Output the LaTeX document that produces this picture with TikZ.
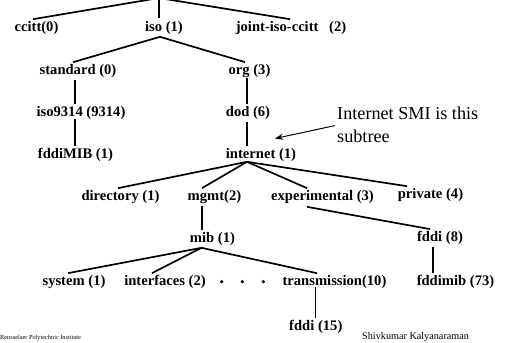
\documentclass[tikz,border=0pt]{standalone}
\usepackage{fontspec}
\setmainfont{Liberation Serif}
\usetikzlibrary{arrows.meta}
\begin{document}
\begin{tikzpicture}[x=1pt,y=-1pt,
  lbl/.style={font=\bfseries\fontsize{14.6}{16}\selectfont, inner sep=2pt, anchor=center},
  edge/.style={line width=1.7pt},
  thinedge/.style={line width=1pt},
  notetext/.style={font=\fontsize{18.2}{23}\selectfont, align=left, inner sep=0pt, anchor=north west},
  ptr/.style={line width=1pt, -{Stealth[length=8pt,width=6pt]}},
  bullet/.style={fill=black}
]
\useasboundingbox (0,0) rectangle (515,343);
\begin{scope}
\clip (0,0) rectangle (515,343);
\coordinate (root) at (159,-2);

% level 1
\node[lbl] (ccitt) at (36.5,28) {ccitt(0)};
\node[lbl] (iso) at (164,28) {iso (1)};
\node[lbl] (joint) at (291,28) {joint-iso-ccitt\hspace{7pt} (2)};
% level 2
\node[lbl] (standard) at (78,71) {standard (0)};
\node[lbl] (org) at (249.5,71) {org (3)};
% level 3
\node[lbl] (iso9314) at (81,113) {iso9314 (9314)};
\node[lbl] (dod) at (248,113) {dod (6)};
% level 4
\node[lbl] (fddiMIB) at (75.5,155) {fddiMIB (1)};
\node[lbl] (internet) at (261,155) {internet (1)};
% level 5
\node[lbl] (directory) at (120.5,197) {directory (1)};
\node[lbl] (mgmt) at (214.5,197) {mgmt(2)};
\node[lbl] (experimental) at (322.5,197) {experimental (3)};
\node[lbl] (private) at (430.5,195) {private (4)};
% level 6
\node[lbl] (mib) at (212.5,239) {mib (1)};
\node[lbl] (fddi8) at (440,238) {fddi (8)};
% level 7
\node[lbl] (system) at (74,282) {system (1)};
\node[lbl] (interfaces) at (165,282) {interfaces (2)};
\node[lbl] (transmission) at (334.5,282) {transmission(10)};
\node[lbl] (fddimib73) at (455.5,282) {fddimib (73)};
% level 8
\node[lbl] (fddi15) at (315.8,327) {fddi (15)};

% dots
\fill[bullet] (221.7,281.7) circle (1.8);
\fill[bullet] (242.3,281.7) circle (1.8);
\fill[bullet] (263.3,281.7) circle (1.8);

% note
\node[notetext] (note) at (337,106.5) {Internet SMI is this\\subtree};
\coordinate (smi) at (275,138.5);
\draw[ptr] ([xshift=-2pt,yshift=-1pt]note.west) -- (smi);

% footers
\node[font=\fontsize{6.3}{7}\selectfont, anchor=west, inner sep=0pt] (rpi) at (0,338) {Rensselaer Polytechnic Institute};
\node[font=\fontsize{10.2}{12}\selectfont, anchor=west, inner sep=0pt] (author) at (362,337) {Shivkumar Kalyanaraman};

% edges
\draw[edge] (root) -- ([xshift=-3.5pt]ccitt.north);
\draw[edge] (root) -- ([xshift=-5pt,yshift=1pt]iso.north);
\draw[edge] (root) -- ([xshift=-1pt]joint.north);

\draw[edge] ([xshift=-4pt]iso.south) -- ([xshift=-5pt]standard.north);
\draw[edge] ([xshift=-4pt]iso.south) -- ([xshift=-4.5pt]org.north);

\draw[edge] ([xshift=-3pt]standard.south) -- ([xshift=-6pt]iso9314.north);
\draw[edge] ([xshift=-2.5pt,yshift=2pt]org.south) -- ([xshift=-1pt]dod.north);
\draw[edge] ([xshift=-6pt,yshift=3pt]iso9314.south) -- ([xshift=-0.5pt]fddiMIB.north);
\draw[edge] ([xshift=-1pt]dod.south) -- ([xshift=-14pt]internet.north);

\draw[edge] ([xshift=-14pt,yshift=2pt]internet.south) -- ([xshift=-2.5pt]directory.north);
\draw[edge] ([xshift=-14pt,yshift=2pt]internet.south) -- ([xshift=-12.5pt]mgmt.north);
\draw[edge] ([xshift=-14pt,yshift=2pt]internet.south) -- ([xshift=-15.5pt]experimental.north);
\draw[edge] ([xshift=-14pt,yshift=2pt]internet.south) -- ([xshift=-23.5pt]private.north);

\draw[edge] ([xshift=-12.5pt]mgmt.south) -- ([xshift=-10.5pt]mib.north);
\draw[edge] ([xshift=-15.5pt,yshift=-1pt]experimental.south) -- ([xshift=-10pt]fddi8.north);

\draw[edge] ([xshift=-11pt]mib.south) -- ([xshift=-6pt]system.north);
\draw[edge] ([xshift=-11pt]mib.south) -- ([xshift=-13pt]interfaces.north);
\draw[edge] ([xshift=-11pt]mib.south) -- ([xshift=-17.5pt]transmission.north);

\draw[edge] ([xshift=-7pt]fddi8.south) -- ([xshift=-22.5pt]fddimib73.north);
\draw[thinedge] ([xshift=-19.5pt,yshift=4pt]transmission.south) -- ([xshift=-0.8pt]fddi15.north);
\end{scope}
\end{tikzpicture}
\end{document}
